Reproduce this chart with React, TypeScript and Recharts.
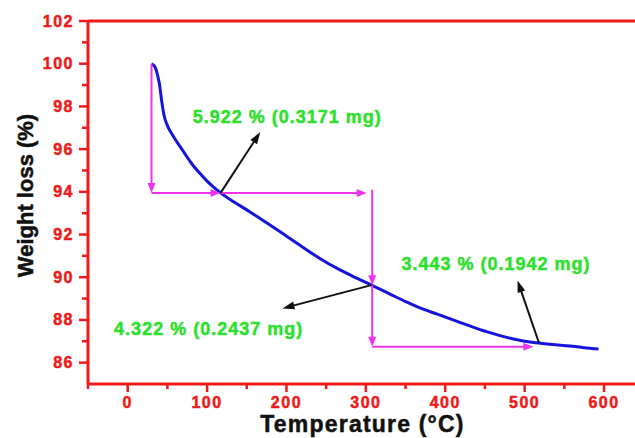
import React from 'react';
import { LineChart, Line, XAxis, YAxis, ReferenceLine, ReferenceDot } from 'recharts';

const temperature = [30, 32, 35, 38, 40, 43, 46, 50, 55, 60, 70, 80, 90, 100, 117, 135, 154, 175, 192, 217, 242, 268, 287, 307, 331, 350, 368, 390, 410, 430, 452, 482, 500, 515, 535, 557, 575, 593];
const weight = [100.0, 99.95, 99.8, 99.4, 99.05, 98.2, 97.55, 97.1, 96.75, 96.45, 95.9, 95.35, 94.9, 94.5, 93.95, 93.5, 93.06, 92.55, 92.13, 91.5, 90.88, 90.33, 89.98, 89.63, 89.2, 88.86, 88.56, 88.27, 88.0, 87.73, 87.45, 87.14, 87.0, 86.93, 86.85, 86.78, 86.7, 86.64];

const xTicks = [-50, 0, 50, 100, 150, 200, 250, 300, 350, 400, 450, 500, 550, 600];
const yTicks = [86, 87, 88, 89, 90, 91, 92, 93, 94, 95, 96, 97, 98, 99, 100, 101, 102];

// step construction arrows (magenta): [x1, y1, x2, y2]
const magentaArrows = [
  [30, 100, 30, 93.95],
  [30, 93.95, 117, 93.95],
  [117, 93.95, 301, 93.95],
  [308, 94.1, 308, 89.63],
  [308, 89.63, 308, 86.75],
  [308, 86.75, 511, 86.75],
];
// pointer arrows (black)
const blackArrows = [
  [117, 93.95, 167, 96.8],
  [307, 89.63, 195, 88.54],
  [518, 86.93, 491, 89.85],
];
const annotationText = ['5.922 % (0.3171 mg)', '4.322 % (0.2437 mg)', '3.443 % (0.1942 mg)'];
const annotationX = [201, 102, 464];
const annotationY = [97.54, 87.6, 90.63];

const data = temperature.map((t, i) => ({ t, w: weight[i] }));

const RED = '#ee1a1a';
const FONT = '"Liberation Sans", Arial, sans-serif';

const arrowShape = (color: string, width: number, head: number, headW: number) => (p: any) => {
  const { x1, y1, x2, y2 } = p;
  const dx = x2 - x1;
  const dy = y2 - y1;
  const L = Math.hypot(dx, dy) || 1;
  const ux = dx / L;
  const uy = dy / L;
  const bx = x2 - ux * head;
  const by = y2 - uy * head;
  const px = (-uy * headW) / 2;
  const py = (ux * headW) / 2;
  return (
    <g>
      <line x1={x1} y1={y1} x2={bx + ux * 1} y2={by + uy * 1} stroke={color} strokeWidth={width} />
      <polygon points={`${x2},${y2} ${bx + px},${by + py} ${bx - px},${by - py}`} fill={color} />
    </g>
  );
};

const XTick = (p: any) => {
  const { x, y, payload } = p;
  const v = payload.value;
  const major = v % 100 === 0;
  return (
    <g>
      <line x1={x} y1={y} x2={x} y2={y + (major ? 8 : 5)} stroke={RED} strokeWidth={2.5} />
      {major && (
        <text x={x} y={y + 24} textAnchor="middle" fill={RED} stroke={RED} strokeWidth={0.5} fontSize={16} fontWeight="bold" fontFamily={FONT} letterSpacing={1.5}>
          {v}
        </text>
      )}
    </g>
  );
};

const YTick = (p: any) => {
  const { x, y, payload } = p;
  const v = payload.value;
  const major = v % 2 === 0;
  return (
    <g>
      <line x1={x} y1={y} x2={x - (major ? 9 : 6)} y2={y} stroke={RED} strokeWidth={2.5} />
      {major && (
        <text x={x - 14} y={y + 5.5} textAnchor="end" fill={RED} stroke={RED} strokeWidth={0.5} fontSize={16} fontWeight="bold" fontFamily={FONT} letterSpacing={1.5}>
          {v}
        </text>
      )}
    </g>
  );
};

export default function App() {
  return (
    <div style={{ position: 'absolute', left: 0, top: 0, background: '#fff' }}>
      <LineChart width={635} height={438} data={data} margin={{ top: 21, right: 0, bottom: 0, left: 0 }}>
        <XAxis
          dataKey="t"
          type="number"
          domain={[-50, 639]}
          ticks={xTicks}
          interval={0}
          allowDataOverflow
          height={54}
          tickSize={0}
          tickMargin={0}
          tickLine={false}
          axisLine={{ stroke: RED, strokeWidth: 3 }}
          tick={<XTick />}
          label={{
            content: (lp: any) => {
              const vb = lp.viewBox;
              return (
                <text x={vb.x + vb.width / 2 + 1} y={vb.y + vb.height - 6} textAnchor="middle" fill="#111" stroke="#111" strokeWidth={0.5} fontSize={23} fontWeight="bold" fontFamily={FONT} letterSpacing={1.2}>
                  Temperature (°C)
                </text>
              );
            },
          }}
        />
        <YAxis
          type="number"
          domain={[85, 102]}
          ticks={yTicks}
          interval={0}
          allowDataOverflow
          width={88}
          tickSize={0}
          tickMargin={0}
          tickLine={false}
          axisLine={{ stroke: RED, strokeWidth: 3 }}
          tick={<YTick />}
          label={{
            content: (lp: any) => {
              const vb = lp.viewBox;
              const cx = vb.x + 33;
              const cy = vb.y + vb.height / 2 - 7;
              return (
                <text x={cx} y={cy} transform={`rotate(-90, ${cx}, ${cy})`} textAnchor="middle" fill="#111" stroke="#111" strokeWidth={0.5} fontSize={22} fontWeight="bold" fontFamily={FONT}>
                  Weight loss (%)
                </text>
              );
            },
          }}
        />
        <ReferenceLine y={102} stroke={RED} strokeWidth={3} />
        <Line type="monotone" dataKey="w" stroke="#1414dc" strokeWidth={3} dot={false} isAnimationActive={false} />
        {magentaArrows.map((a, i) => (
          <ReferenceLine
            key={'m' + i}
            segment={[{ x: a[0], y: a[1] }, { x: a[2], y: a[3] }]}
            stroke="#ee33ee"
            shape={arrowShape('#ee33ee', 2, 10, 8)}
          />
        ))}
        {blackArrows.map((a, i) => (
          <ReferenceLine
            key={'b' + i}
            segment={[{ x: a[0], y: a[1] }, { x: a[2], y: a[3] }]}
            stroke="#111"
            shape={arrowShape('#111', 2, 12, 8)}
          />
        ))}
        {annotationText.map((s, i) => (
          <ReferenceDot
            key={'t' + i}
            x={annotationX[i]}
            y={annotationY[i]}
            r={0}
            shape={(p: any) => (
              <text x={p.cx} y={p.cy + 6.5} textAnchor="middle" fill="#2ee02e" stroke="#2ee02e" strokeWidth={0.5} fontSize={18} fontWeight="bold" fontFamily={FONT} letterSpacing={1}>
                {s}
              </text>
            )}
          />
        ))}
      </LineChart>
    </div>
  );
}
